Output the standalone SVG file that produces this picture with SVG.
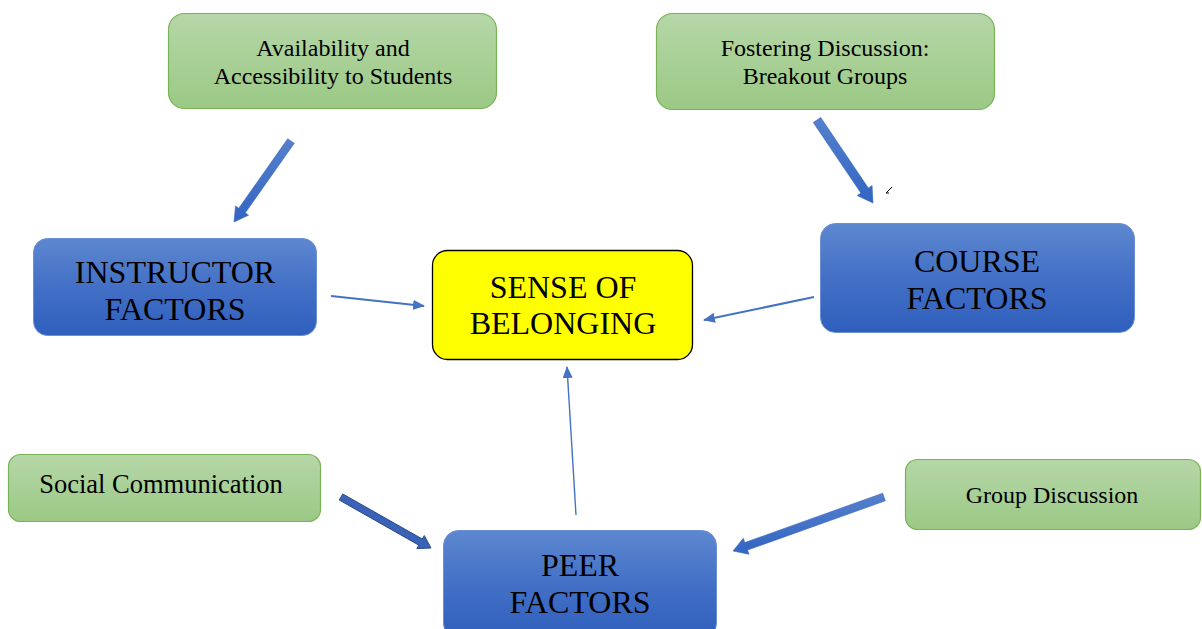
<svg xmlns="http://www.w3.org/2000/svg" width="1202" height="629" viewBox="0 0 1202 629">
<defs>
<linearGradient id="gGreen" x1="0" y1="0" x2="0" y2="1"><stop offset="0" stop-color="#b6d7a8"/><stop offset="1" stop-color="#9bc985"/></linearGradient>
<linearGradient id="gBlue" x1="0" y1="0" x2="0" y2="1"><stop offset="0" stop-color="#5d87cf"/><stop offset="0.5" stop-color="#4370c6"/><stop offset="1" stop-color="#2f5fbd"/></linearGradient>
<linearGradient id="gArrow" x1="0" y1="0" x2="0" y2="1"><stop offset="0" stop-color="#5580cc"/><stop offset="1" stop-color="#3265c2"/></linearGradient>
<marker id="tri" viewBox="0 0 12 10" refX="11" refY="5" markerWidth="12" markerHeight="10" markerUnits="userSpaceOnUse" orient="auto"><path d="M0,0 L12,5 L0,10 Z" fill="#4472c4"/></marker>
<style>
.green{fill:url(#gGreen);stroke:#7ab356;stroke-width:1.2}
.blue{fill:url(#gBlue);stroke:#6a8fd3;stroke-width:1}
.yellow{fill:#ffff00;stroke:#000;stroke-width:1.3}
.st{font-family:"Liberation Serif","Times New Roman",serif;font-size:24px;fill:#000;text-anchor:middle}
.bt{font-family:"Liberation Serif","Times New Roman",serif;font-size:32px;fill:#000;text-anchor:middle}
.line{stroke:#4472c4;fill:none;marker-end:url(#tri)}
.block{fill:url(#gArrow);stroke:#3a66c0;stroke-width:0.6}
</style>
</defs>
<g id="connectors">
<polygon class="block" points="287.73,138.70 238.79,208.25 235.52,205.95 234,222 248.60,215.15 245.33,212.85 294.27,143.30"/>
<polygon class="block" points="813.27,122.52 860.88,193.09 857.15,195.60 873,203 872.07,185.54 868.34,188.05 820.73,117.48"/>
<polygon points="339.27,500.05 418.83,545.13 416.86,548.61 431,548 424.26,535.55 422.29,539.03 342.73,493.95" fill="#3a62b6" stroke="#2a4b8c" stroke-width="1"/>
<polygon class="block" points="882.65,493.23 744.83,542.52 743.32,538.29 733,551 749.04,554.29 747.53,550.06 885.35,500.77"/>
<line class="line" x1="331" y1="296" x2="424" y2="306" stroke-width="2"/>
<line class="line" x1="814" y1="297" x2="704" y2="320" stroke-width="2"/>
<line class="line" x1="576" y1="515" x2="567" y2="367" stroke-width="1.4"/>
<path d="M886,193 L892,187 M886,193 L889,193" stroke="#000" stroke-width="1" fill="none"/>
</g>
<g id="availability">
<rect class="green" x="168.5" y="13.5" width="328" height="95" rx="16"/>
<text class="st" x="333" y="56">Availability and</text>
<text class="st" x="333" y="84">Accessibility to Students</text>
</g>
<g id="fostering">
<rect class="green" x="656.5" y="13.5" width="338" height="96" rx="16"/>
<text class="st" x="825" y="56">Fostering Discussion:</text>
<text class="st" x="825" y="84">Breakout Groups</text>
</g>
<g id="instructor">
<rect class="blue" x="33.5" y="238.5" width="283" height="97" rx="14"/>
<text class="bt" x="175" y="283">INSTRUCTOR</text>
<text class="bt" x="175" y="320">FACTORS</text>
</g>
<g id="sense">
<rect class="yellow" x="432.5" y="250.5" width="260" height="109" rx="15"/>
<text class="bt" x="563" y="298">SENSE OF</text>
<text class="bt" x="563" y="334">BELONGING</text>
</g>
<g id="course">
<rect class="blue" x="820.5" y="223.5" width="314" height="109" rx="15"/>
<text class="bt" x="977" y="272">COURSE</text>
<text class="bt" x="977" y="309">FACTORS</text>
</g>
<g id="social">
<rect class="green" x="8.5" y="454.5" width="312" height="67" rx="12"/>
<text class="st" x="161" y="493" style="font-size:26.5px">Social Communication</text>
</g>
<g id="group">
<rect class="green" x="905.5" y="459.5" width="295" height="70" rx="12"/>
<text class="st" x="1052" y="503">Group Discussion</text>
</g>
<g id="peer">
<rect class="blue" x="443.5" y="530.5" width="273" height="108" rx="15"/>
<text class="bt" x="580" y="576">PEER</text>
<text class="bt" x="580" y="613">FACTORS</text>
</g>
</svg>
